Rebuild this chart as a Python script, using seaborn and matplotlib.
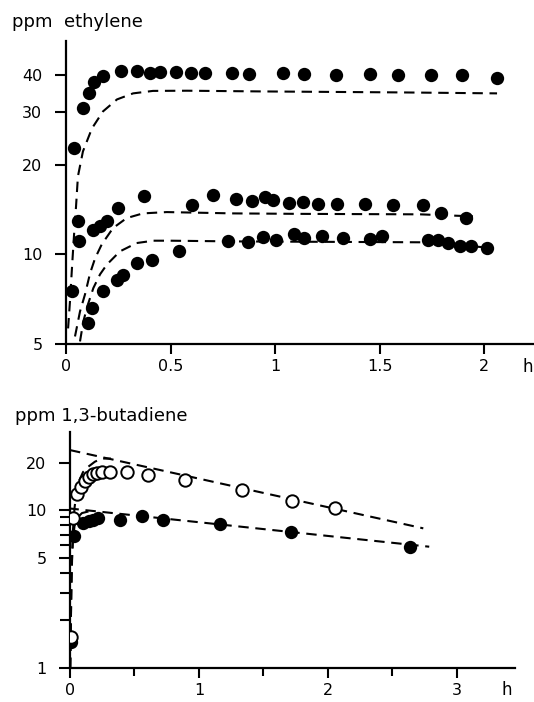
import numpy as np
import pandas as pd
import matplotlib
matplotlib.use("Agg")
import matplotlib.pyplot as plt
import seaborn as sns
from matplotlib.ticker import FixedLocator, NullLocator, NullFormatter, FixedFormatter

# %% ethylene (ust panel) - olcum noktalari
t_a = [0.038, 0.080, 0.111, 0.135, 0.176, 0.263, 0.341, 0.402, 0.450, 0.526, 0.598, 0.665,
       0.793, 0.876, 1.038, 1.139, 1.292, 1.455, 1.589, 1.746, 1.895, 2.062]
c_a = [22.8, 31.1, 34.8, 38.0, 39.6, 41.1, 41.3, 40.6, 40.8, 40.8, 40.6, 40.6,
       40.6, 40.4, 40.5, 40.2, 39.9, 40.2, 39.9, 39.9, 39.9, 39.2]

t_b = [0.027, 0.062, 0.059, 0.131, 0.163, 0.195, 0.250, 0.375, 0.604, 0.703, 0.813, 0.889,
       0.952, 0.990, 1.068, 1.134, 1.204, 1.295, 1.431, 1.563, 1.708, 1.794, 1.914]
c_b = [7.51, 11.05, 12.90, 12.10, 12.41, 12.90, 14.30, 15.65, 14.67, 15.85, 15.33, 15.14,
       15.59, 15.17, 14.90, 15.00, 14.79, 14.71, 14.77, 14.65, 14.65, 13.80, 13.28]

t_c = [0.107, 0.123, 0.178, 0.243, 0.274, 0.338, 0.410, 0.542, 0.775, 0.872, 0.944, 1.005,
       1.090, 1.139, 1.225, 1.327, 1.455, 1.511, 1.734, 1.781, 1.829, 1.885, 1.938, 2.015]
c_c = [5.88, 6.60, 7.51, 8.22, 8.54, 9.35, 9.59, 10.23, 11.05, 10.97, 11.40, 11.20,
       11.67, 11.34, 11.51, 11.37, 11.29, 11.49, 11.14, 11.16, 10.94, 10.67, 10.70, 10.49]

# model egrileri (kesikli)
fit_ta = [0.010, 0.019, 0.029, 0.038, 0.048, 0.057, 0.081, 0.124, 0.177, 0.244, 0.321, 0.416,
          0.579, 0.928, 1.598, 2.062]
fit_ca = [5.64, 6.95, 9.11, 11.49, 14.48, 18.26, 22.15, 26.45, 30.18, 33.11, 34.69, 35.36,
          35.41, 35.22, 34.95, 34.69]
fit_tb = [0.043, 0.067, 0.091, 0.115, 0.139, 0.171, 0.225, 0.290, 0.368, 0.482, 0.799, 1.120,
          1.694, 1.947]
fit_cb = [5.30, 6.43, 7.34, 8.63, 9.69, 10.80, 12.25, 13.23, 13.72, 13.86, 13.72, 13.67,
          13.62, 13.41]
fit_tc = [0.067, 0.083, 0.105, 0.131, 0.163, 0.195, 0.258, 0.338, 0.418, 0.498, 0.799, 1.742, 2.029]
fit_cc = [5.10, 5.96, 6.79, 7.71, 8.57, 9.23, 10.23, 10.91, 11.11, 11.11, 11.05, 10.97, 10.51]

# %% 1,3-butadiene (alt panel)
t_open = [0.005, 0.026, 0.058, 0.087, 0.116, 0.151, 0.181, 0.213, 0.246, 0.310, 0.440, 0.603,
          0.889, 1.331, 1.723, 2.054]
c_open = [1.56, 8.86, 12.63, 13.98, 15.26, 16.18, 16.95, 17.27, 17.48, 17.48, 17.48, 16.66,
          15.48, 13.39, 11.45, 10.25]
t_fill = [0.005, 0.031, 0.103, 0.150, 0.181, 0.219, 0.391, 0.562, 0.722, 1.163, 1.711, 2.636]
c_fill = [1.47, 6.90, 8.34, 8.58, 8.64, 8.96, 8.71, 9.19, 8.71, 8.15, 7.23, 5.86]

line_t_open = [0.0, 2.739]
line_c_open = [23.97, 7.66]
line_t_fill = [-0.012, 2.785]
line_c_fill = [10.25, 5.86]
rise_t_open = [0.002, 0.005, 0.008, 0.012, 0.016, 0.023, 0.035, 0.050, 0.070, 0.101, 0.141,
               0.192, 0.244, 0.318]
rise_c_open = [1.0, 1.50, 2.33, 3.61, 5.19, 7.47, 10.29, 13.00, 15.26, 17.40, 18.79,
               20.21, 21.18, 21.18]
rise_t_fill = [0.002, 0.006, 0.010, 0.016, 0.023, 0.035, 0.054, 0.093, 0.155]
rise_c_fill = [1.0, 1.74, 3.12, 4.83, 6.46, 7.92, 8.90, 9.57, 9.85]

sns.set_style("ticks")
plt.rcParams["font.family"] = ["DejaVu Sans"]
plt.rcParams["axes.linewidth"] = 1.6
plt.rcParams["text.color"] = "black"

fig = plt.figure(figsize=(5.34, 7.02), dpi=100)
ax1 = fig.add_axes([66 / 534, (702 - 344) / 702, (533 - 66) / 534, (344 - 41) / 702])
ax2 = fig.add_axes([70 / 534, (702 - 668) / 702, (515 - 70) / 534, (668 - 432) / 702])

dash = (0, (5, 3.2))
nokta = dict(color="black", s=92, linewidth=0, zorder=3)
egri = dict(color="black", linewidth=1.5, linestyle=dash, estimator=None, sort=False)

# ust panel
for tt, cc in [(t_a, c_a), (t_b, c_b), (t_c, c_c)]:
    sns.scatterplot(x=tt, y=cc, ax=ax1, **nokta)
for tt, cc in [(fit_ta, fit_ca), (fit_tb, fit_cb), (fit_tc, fit_cc)]:
    sns.lineplot(x=tt, y=cc, ax=ax1, **egri)

ax1.set_yscale("log")
ax1.set_xlim(0, 2.234)
ax1.set_ylim(5, 52)
ax1.yaxis.set_major_locator(FixedLocator([5, 10, 20, 30, 40]))
ax1.yaxis.set_major_formatter(FixedFormatter(["5", "10", "20", "30", "40"]))
ax1.yaxis.set_minor_locator(NullLocator())
ax1.set_xticks([0, 0.5, 1, 1.5, 2])
ax1.set_xticklabels(["0", "0.5", "1", "1.5", "2"])

# alt panel
sns.lineplot(x=line_t_open, y=line_c_open, ax=ax2, **egri)
sns.lineplot(x=line_t_fill, y=line_c_fill, ax=ax2, **egri)
sns.lineplot(x=rise_t_open, y=rise_c_open, ax=ax2, **egri)
sns.lineplot(x=rise_t_fill, y=rise_c_fill, ax=ax2, **egri)
sns.scatterplot(x=t_fill, y=c_fill, ax=ax2, **nokta)
sns.scatterplot(x=t_open, y=c_open, ax=ax2, color="white", edgecolor="black",
                linewidth=1.4, s=80, zorder=4)

ax2.set_yscale("log")
ax2.set_xlim(0, 3.45)
ax2.set_ylim(1, 31.2)
ax2.yaxis.set_major_locator(FixedLocator([1, 5, 10, 20]))
ax2.yaxis.set_major_formatter(FixedFormatter(["1", "5", "10", "20"]))
ax2.yaxis.set_minor_locator(FixedLocator([2, 3, 4, 6, 7, 8, 9]))
ax2.yaxis.set_minor_formatter(NullFormatter())
ax2.set_xticks([0, 1, 2, 3])
ax2.set_xticklabels(["0", "1", "2", "3"])
ax2.set_xticks([0.5, 1.5, 2.5], minor=True)

for ax in (ax1, ax2):
    sns.despine(ax=ax)
    ax.set_xlabel("")
    ax.set_ylabel("")
    ax.tick_params(axis="both", which="both", direction="out", color="black",
                   width=1.5, labelsize=11.5, labelcolor="black")
    ax.tick_params(axis="y", which="major", length=8, pad=9)
    ax.tick_params(axis="y", which="minor", length=7)
    ax.tick_params(axis="x", which="major", length=7, pad=4)
    ax.tick_params(axis="x", which="minor", length=6)
    ax.spines["left"].set_color("black")
    ax.spines["bottom"].set_color("black")

fig.text(12 / 534, 1 - 22 / 702, "ppm  ethylene", fontsize=13, va="center", ha="left",
         color="black")
fig.text(15 / 534, 1 - 416 / 702, "ppm 1,3-butadiene", fontsize=13, va="center", ha="left",
         color="black")
fig.text(528 / 534, 1 - 367 / 702, "h", fontsize=12, va="center", ha="center", color="black")
fig.text(507 / 534, 1 - 690 / 702, "h", fontsize=12, va="center", ha="center", color="black")

fig.savefig("out.png", dpi=100)
